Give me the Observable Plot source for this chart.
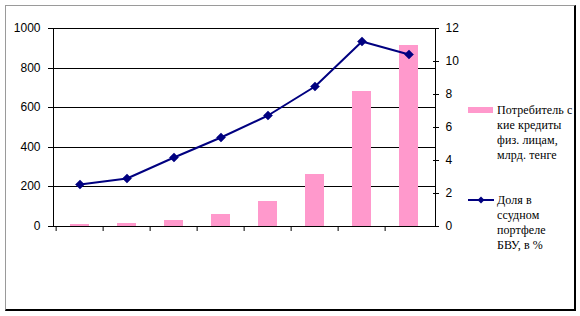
<!DOCTYPE html>
<html>
<head>
<meta charset="utf-8">
<script src="https://cdn.jsdelivr.net/npm/d3@7"></script>
<script src="https://cdn.jsdelivr.net/npm/@observablehq/plot@0.6"></script>
<style>
  html, body { margin: 0; padding: 0; background: #fff; }
  #wrap { position: relative; width: 580px; height: 316px; overflow: hidden; }
  #wrap svg { position: absolute; left: 0; top: 0; }
  #border { position: absolute; left: 5px; top: 5px; width: 568px; height: 303px;
    border-left: 1px solid #9a9a9a; border-top: 1px solid #9a9a9a;
    border-right: 2px solid #000; border-bottom: 2px solid #000; box-sizing: content-box; }
  .leg { position: absolute; font-family: "Liberation Serif", "Times New Roman", serif;
    font-size: 12px; line-height: 15px; color: #000; letter-spacing: 0.1px; white-space: nowrap; }
  .sw { position: absolute; }
</style>
</head>
<body>
<div id="wrap">
  <div id="border"></div>
</div>
<script>
const categories = ["1", "2", "3", "4", "5", "6", "7", "8"];
const loans = [12, 17, 32, 62, 127, 264, 682, 914];          // млрд. тенге (left axis)
const share = [2.52, 2.88, 4.2, 5.4, 6.72, 8.48, 11.22, 10.43]; // % (right axis)
const leftTicks = [0, 200, 400, 600, 800, 1000];
const rightTicks = [0, 2, 4, 6, 8, 10, 12];
const leftMax = 1000, rightMax = 12;
const barLabel = ["Потребитель с", "кие кредиты", "физ. лицам,", "млрд. тенге"];
const lineLabel = ["Доля в", "ссудном", "портфеле", "БВУ, в %"];

const data = categories.map((c, i) => ({cat: c, loans: loans[i], share: share[i]}));
const toLeft = v => v * leftMax / rightMax;

const W = 580, H = 316, mL = 53, mR = 145, mT = 28, mB = 90;
const step = (W - mL - mR) / categories.length;

const chart = Plot.plot({
  width: W, height: H,
  marginLeft: mL, marginRight: mR, marginTop: mT, marginBottom: mB,
  style: {fontFamily: "'Liberation Sans', Arial, sans-serif", fontSize: "12px", color: "#000", background: "transparent"},
  x: {domain: categories, paddingInner: 0.6, paddingOuter: 0.3, axis: null},
  y: {domain: [0, leftMax], axis: null, round: true},
  marks: [
    Plot.gridY(leftTicks, {stroke: "#000", strokeOpacity: 1}),
    Plot.barY(data, {x: "cat", y: "loans", fill: "#ff99cc"}),
    Plot.frame({stroke: "#000", strokeOpacity: 1}),
    Plot.axisY({anchor: "left", ticks: leftTicks, tickFormat: d3.format("d"), tickSize: 5, tickPadding: 8, label: null, stroke: "#000"}),
    Plot.axisY({anchor: "right", ticks: rightTicks.map(toLeft), tickFormat: d => String(Math.round(d * rightMax / leftMax)),
      tickSize: 6, dx: -3, tickPadding: 7, label: null, textAnchor: "start"}),
    Plot.axisX({anchor: "bottom", tickSize: 5, tickFormat: () => "", dx: -step / 2, label: null}),
    Plot.line(data, {x: "cat", y: d => toLeft(d.share), stroke: "#000080", strokeWidth: 2}),
    Plot.dot(data, {x: "cat", y: d => toLeft(d.share), symbol: "diamond2", r: 4.1, fill: "#000080", stroke: "#000080", strokeWidth: 0.5})
  ]
});

const wrap = document.getElementById("wrap");
wrap.insertBefore(chart, wrap.firstChild);

function addLegend(lines, top) {
  const d = document.createElement("div");
  d.className = "leg";
  d.style.left = "497px";
  d.style.top = top + "px";
  d.innerHTML = lines.join("<br>");
  wrap.appendChild(d);
}
// swatches
const sw1 = document.createElement("div");
sw1.className = "sw";
Object.assign(sw1.style, {left: "468px", top: "107px", width: "25px", height: "6px", background: "#ff99cc"});
wrap.appendChild(sw1);
const sw2 = document.createElement("div");
sw2.className = "sw";
sw2.innerHTML = '<svg width="28" height="10"><line x1="0" y1="5" x2="26" y2="5" stroke="#000080" stroke-width="2"/><path d="M13,1.5L16.5,5L13,8.5L9.5,5Z" fill="#000080"/></svg>';
Object.assign(sw2.style, {left: "468px", top: "195px"});
wrap.appendChild(sw2);

addLegend(barLabel, 103);
addLegend(lineLabel, 193);
</script>
</body>
</html>
